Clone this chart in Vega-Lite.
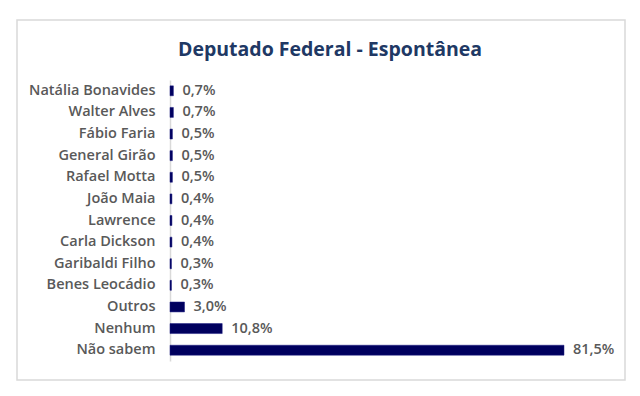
{
  "$schema": "https://vega.github.io/schema/vega-lite/v6.json",
  "width": 608,
  "height": 360,
  "autosize": {"type": "none"},
  "padding": {"left": 17, "top": 20, "right": 15, "bottom": 16},
  "background": "white",
  "config": {
    "view": {"stroke": "#d9d9d9", "strokeWidth": 1.5},
    "font": "Open Sans"
  },
  "title": {
    "text": "Deputado Federal - Espontânea",
    "font": "Open Sans",
    "fontSize": 19.5,
    "fontWeight": "bold",
    "color": "#203864",
    "anchor": "middle",
    "dx": 9,
    "offset": -40
  },
  "data": {
    "values": [
      {"nome": "Natália Bonavides", "pct": 0.7, "rotulo": "0,7%"},
      {"nome": "Walter Alves", "pct": 0.7, "rotulo": "0,7%"},
      {"nome": "Fábio Faria", "pct": 0.5, "rotulo": "0,5%"},
      {"nome": "General Girão", "pct": 0.5, "rotulo": "0,5%"},
      {"nome": "Rafael Motta", "pct": 0.5, "rotulo": "0,5%"},
      {"nome": "João Maia", "pct": 0.4, "rotulo": "0,4%"},
      {"nome": "Lawrence", "pct": 0.4, "rotulo": "0,4%"},
      {"nome": "Carla Dickson", "pct": 0.4, "rotulo": "0,4%"},
      {"nome": "Garibaldi Filho", "pct": 0.3, "rotulo": "0,3%"},
      {"nome": "Benes Leocádio", "pct": 0.3, "rotulo": "0,3%"},
      {"nome": "Outros", "pct": 3.0, "rotulo": "3,0%"},
      {"nome": "Nenhum", "pct": 10.8, "rotulo": "10,8%"},
      {"nome": "Não sabem", "pct": 81.5, "rotulo": "81,5%"}
    ]
  },
  "encoding": {
    "y": {
      "field": "nome",
      "type": "nominal",
      "sort": null,
      "scale": {"range": [60, 341], "paddingInner": 0.54, "paddingOuter": 0.27},
      "axis": {
        "title": null,
        "offset": -153,
        "ticks": false,
        "domainColor": "#d9d9d9",
        "domainWidth": 1.5,
        "labelPadding": 15,
        "labelFont": "Open Sans",
        "labelFontSize": 14.5,
        "labelFontWeight": 600,
        "labelColor": "#595959",
        "grid": false
      }
    },
    "x": {
      "field": "pct",
      "type": "quantitative",
      "scale": {"domain": [-31.65, 94.12], "nice": false, "zero": false},
      "axis": null
    }
  },
  "layer": [
    {
      "mark": {"type": "bar", "color": "#00005e", "stroke": "#1a1a80", "strokeWidth": 0.5}
    },
    {
      "mark": {
        "type": "text",
        "align": "left",
        "baseline": "middle",
        "dx": 9,
        "font": "Open Sans",
        "fontSize": 14.5,
        "fontWeight": 600,
        "color": "#595959"
      },
      "encoding": {"text": {"field": "rotulo"}}
    }
  ]
}
